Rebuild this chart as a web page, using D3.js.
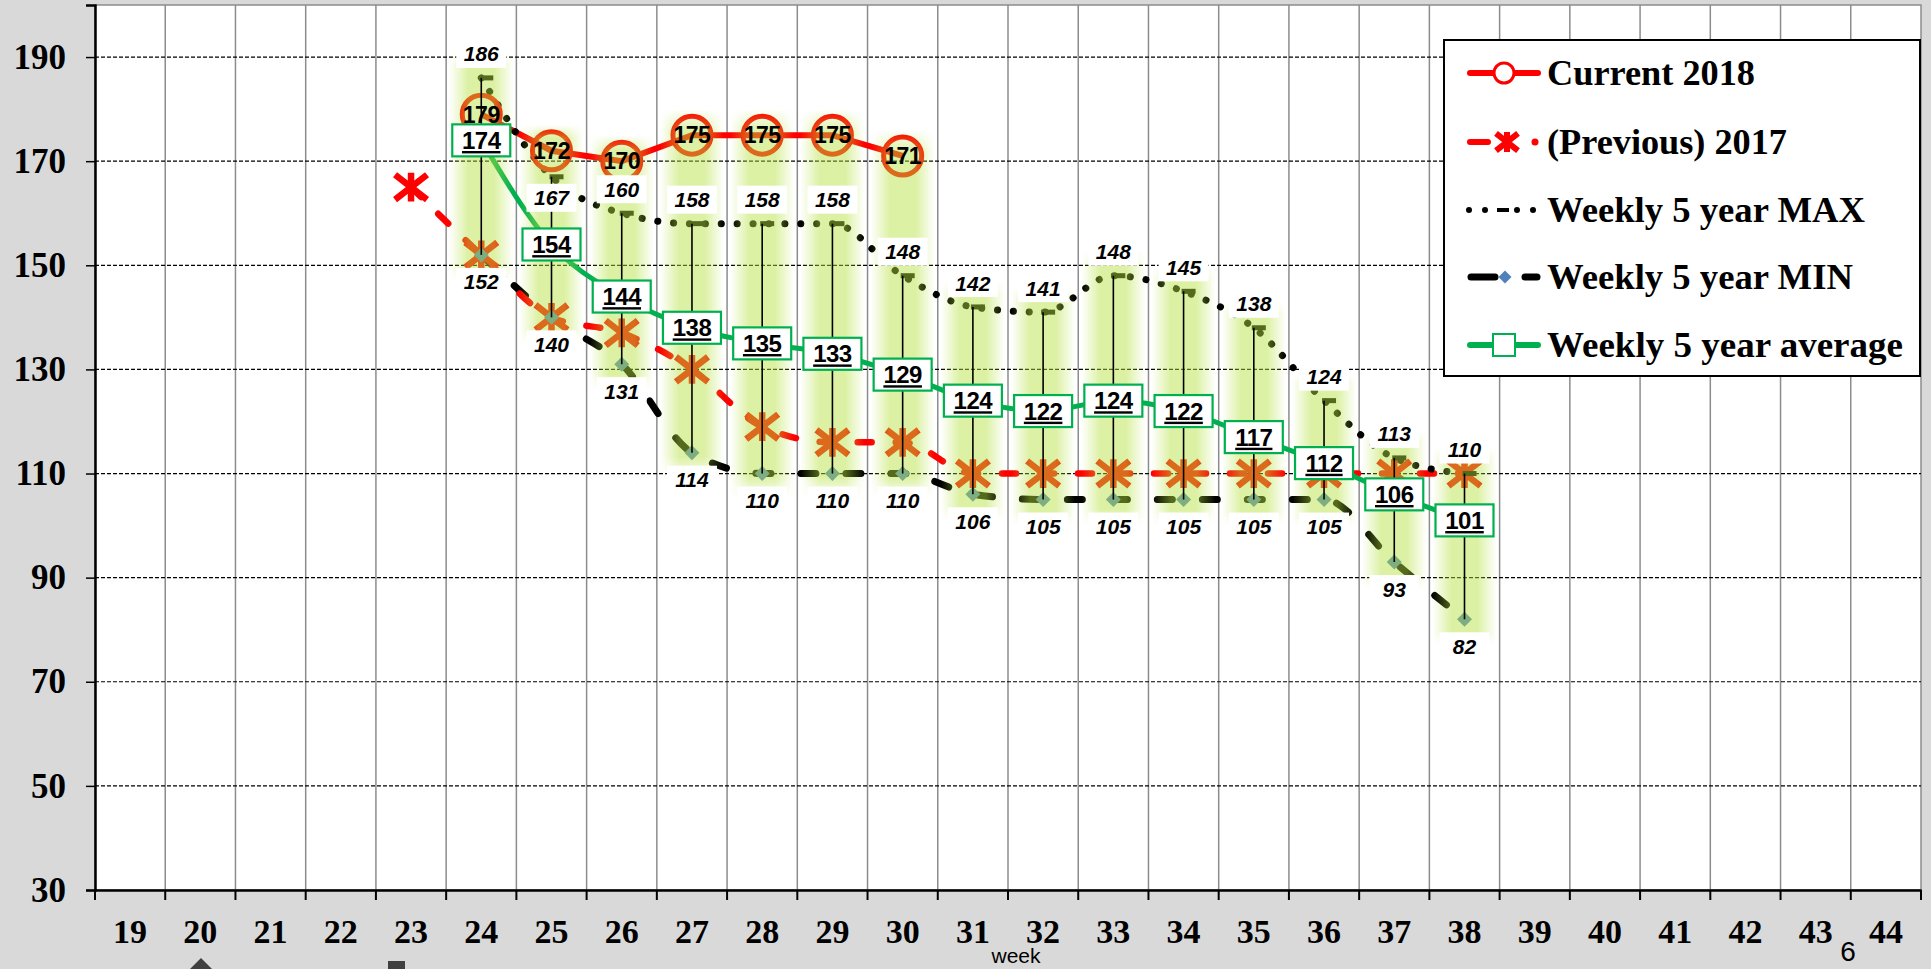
<!DOCTYPE html>
<html>
<head>
<meta charset="utf-8">
<script src="https://cdn.jsdelivr.net/npm/d3@7"></script>
<style>
  body { margin: 0; background: #d9d9d9; }
  svg { display: block; }
</style>
</head>
<body>
<svg id="chart" width="1931" height="969"></svg>
<script>
// chart values
var weeks = [19, 20, 21, 22, 23, 24, 25, 26, 27, 28, 29, 30, 31, 32, 33, 34, 35, 36, 37, 38, 39, 40, 41, 42, 43, 44];
var yTicks = [30, 50, 70, 90, 110, 130, 150, 170, 190];

var currentWeeks = [24, 25, 26, 27, 28, 29, 30];
var currentValues = [179, 172, 170, 175, 175, 175, 171];

var prevWeeks = [23, 24, 25, 26, 27, 28, 29, 30, 31, 32, 33, 34, 35, 36, 37, 38];
var prevValues = [165, 152, 140, 137, 130, 119, 116, 116, 110, 110, 110, 110, 110, 110, 110, 110];

var rangeWeeks = [24, 25, 26, 27, 28, 29, 30, 31, 32, 33, 34, 35, 36, 37, 38];
var maxValues = [186, 167, 160, 158, 158, 158, 148, 142, 141, 148, 145, 138, 124, 113, 110];
var minValues = [152, 140, 131, 114, 110, 110, 110, 106, 105, 105, 105, 105, 105, 93, 82];
var avgValues = [174, 154, 144, 138, 135, 133, 129, 124, 122, 124, 122, 117, 112, 106, 101];

var legendNames = ['Current 2018', '(Previous) 2017', 'Weekly 5 year MAX', 'Weekly 5 year MIN', 'Weekly 5 year average'];

var width = 1931, height = 969;
var plot = { left: 95, right: 1921, top: 5, bottom: 890 };
var serif = '"Liberation Serif", "Times New Roman", serif';
var sans = '"Liberation Sans", Arial, sans-serif';

var svg = d3.select('#chart');

var xScale = d3.scaleBand().domain(weeks).range([plot.left, plot.right]);
var yScale = d3.scaleLinear().domain([30, 200]).range([plot.bottom, plot.top]);
function cx(w) { return xScale(w) + xScale.bandwidth() / 2; }

function zip(ws, vs) {
  return ws.map(function(w, i) { return { week: w, value: vs[i] }; });
}
var currentData = zip(currentWeeks, currentValues);
var prevData = zip(prevWeeks, prevValues);
var maxData = zip(rangeWeeks, maxValues);
var minData = zip(rangeWeeks, minValues);
var avgData = zip(rangeWeeks, avgValues);

// soft glow for the high-low columns: horizontal fade + vertical fade
var defs = svg.append('defs');
var hGrad = defs.append('linearGradient').attr('id', 'glowH').attr('x1', 0).attr('x2', 1).attr('y1', 0).attr('y2', 0);
[[0, 0], [0.3, 1], [0.7, 1], [1, 0]].forEach(function(s) {
  hGrad.append('stop').attr('offset', s[0]).attr('stop-color', 'rgb(180,225,60)').attr('stop-opacity', s[1] * 0.47);
});
var vGrad = defs.append('linearGradient').attr('id', 'glowV').attr('x1', 0).attr('x2', 0).attr('y1', 0).attr('y2', 1);
[[0, 0], [0.06, 1], [0.94, 1], [1, 0]].forEach(function(s) {
  vGrad.append('stop').attr('offset', s[0]).attr('stop-color', '#fff').attr('stop-opacity', s[1]);
});
defs.append('mask').attr('id', 'glowMask').attr('maskContentUnits', 'objectBoundingBox')
  .append('rect').attr('width', 1).attr('height', 1).attr('fill', 'url(#glowV)');

svg.append('rect').attr('width', width).attr('height', height).attr('fill', '#d9d9d9');
svg.append('rect')
  .attr('x', plot.left).attr('y', plot.top)
  .attr('width', plot.right - plot.left).attr('height', plot.bottom - plot.top)
  .attr('fill', '#fff').attr('stroke', '#8c8c8c').attr('stroke-width', 1.5);

// vertical grid at band edges
var gridGroup = svg.append('g');
gridGroup.selectAll('.vgrid').data(weeks.slice(1)).enter().append('line')
  .attr('class', 'vgrid')
  .attr('x1', function(d) { return xScale(d); })
  .attr('x2', function(d) { return xScale(d); })
  .attr('y1', plot.top).attr('y2', plot.bottom)
  .attr('stroke', '#8c8c8c').attr('stroke-width', 1.5);
gridGroup.selectAll('.hgrid').data(yTicks.slice(1)).enter().append('line')
  .attr('class', 'hgrid')
  .attr('x1', plot.left).attr('x2', plot.right)
  .attr('y1', function(d) { return yScale(d); })
  .attr('y2', function(d) { return yScale(d); })
  .attr('stroke', '#000').attr('stroke-width', 1.2).attr('stroke-dasharray', '4,2');

// axes
var yAxis = d3.axisLeft(yScale).tickValues(yTicks).tickSize(9).tickPadding(20);
var yAxisGroup = svg.append('g').attr('transform', 'translate(' + plot.left + ',0)').call(yAxis);
yAxisGroup.select('.domain').attr('stroke-width', 2.5);
yAxisGroup.selectAll('line').attr('stroke-width', 1.5);
yAxisGroup.selectAll('text')
  .style('font-family', serif).style('font-weight', 'bold').style('font-size', '35px').attr('fill', '#000');

var xAxis = d3.axisBottom(xScale).tickSize(0).tickPadding(29);
var xAxisGroup = svg.append('g').attr('transform', 'translate(0,' + plot.bottom + ')').call(xAxis);
xAxisGroup.select('.domain').attr('stroke-width', 2.5);
xAxisGroup.selectAll('text')
  .style('font-family', serif).style('font-weight', 'bold').style('font-size', '34px').attr('fill', '#000');
xAxisGroup.selectAll('.edge').data(weeks.concat(['end'])).enter().append('line')
  .attr('class', 'edge')
  .attr('x1', function(d) { return d === 'end' ? plot.right : xScale(d); })
  .attr('x2', function(d) { return d === 'end' ? plot.right : xScale(d); })
  .attr('y1', 0).attr('y2', 10)
  .attr('stroke', '#000').attr('stroke-width', 2);

svg.append('text').attr('x', 1016).attr('y', 963).attr('text-anchor', 'middle')
  .style('font-family', sans).style('font-size', '21px').text('week');
svg.append('text').attr('x', 1848).attr('y', 961).attr('text-anchor', 'middle')
  .style('font-family', sans).style('font-size', '28px').text('6');
// clipped markers of a hidden legend under the axis
svg.append('path').attr('transform', 'translate(201,978)').attr('fill', '#404040')
  .attr('d', 'M0,-20L20,0L0,20L-20,0Z');
svg.append('rect').attr('x', 388).attr('y', 961).attr('width', 17).attr('height', 17).attr('fill', '#404040');

// series lines
var seriesGroup = svg.append('g');
function lineGen(curve) {
  return d3.line()
    .x(function(d) { return cx(d.week); })
    .y(function(d) { return yScale(d.value); })
    .curve(curve);
}
seriesGroup.append('path').datum(minData)
  .attr('d', lineGen(d3.curveMonotoneX))
  .attr('fill', 'none').attr('stroke', '#000').attr('stroke-width', 7)
  .attr('stroke-linecap', 'round').attr('stroke-dasharray', '15,30');
seriesGroup.append('path').datum(prevData)
  .attr('d', lineGen(d3.curveMonotoneX))
  .attr('fill', 'none').attr('stroke', '#ff0000').attr('stroke-width', 6.5)
  .attr('stroke-linecap', 'round').attr('stroke-dasharray', '14,24');
seriesGroup.append('path').datum(avgData)
  .attr('d', lineGen(d3.curveMonotoneX))
  .attr('fill', 'none').attr('stroke', '#00b050').attr('stroke-width', 5);
seriesGroup.append('path').datum(currentData)
  .attr('d', lineGen(d3.curveLinear))
  .attr('fill', 'none').attr('stroke', '#ff0000').attr('stroke-width', 6);
seriesGroup.append('path').datum(maxData)
  .attr('d', lineGen(d3.curveMonotoneX))
  .attr('fill', 'none').attr('stroke', '#000').attr('stroke-width', 7)
  .attr('stroke-linecap', 'round').attr('stroke-dasharray', '0.1,15.8');

// markers
function starPath(r) {
  return 'M' + (-r) + ',' + (-r * 0.78) + 'L' + r + ',' + (r * 0.78) +
    'M' + (-r) + ',' + (r * 0.78) + 'L' + r + ',' + (-r * 0.78) +
    'M0,' + (-r * 0.9) + 'L0,' + (r * 0.9);
}
function diamondPath(h) {
  return 'M0,' + (-h) + 'L' + h + ',0L0,' + h + 'L' + (-h) + ',0Z';
}
var markerGroup = svg.append('g');
markerGroup.selectAll('.prev-mark').data(prevData).enter().append('path')
  .attr('class', 'prev-mark')
  .attr('transform', function(d) { return 'translate(' + cx(d.week) + ',' + yScale(d.value) + ')'; })
  .attr('d', starPath(16))
  .attr('fill', 'none').attr('stroke', '#ff0000').attr('stroke-width', 6.5);
markerGroup.selectAll('.min-mark').data(minData).enter().append('path')
  .attr('class', 'min-mark')
  .attr('transform', function(d) { return 'translate(' + cx(d.week) + ',' + yScale(d.value) + ')'; })
  .attr('d', diamondPath(7.5))
  .attr('fill', '#4f81bd');
markerGroup.selectAll('.max-mark').data(maxData).enter().append('rect')
  .attr('class', 'max-mark')
  .attr('x', function(d) { return cx(d.week) - 2; })
  .attr('y', function(d) { return yScale(d.value) - 2.5; })
  .attr('width', 14).attr('height', 5).attr('fill', '#000');
markerGroup.selectAll('.cur-mark').data(currentData).enter().append('circle')
  .attr('class', 'cur-mark')
  .attr('cx', function(d) { return cx(d.week); })
  .attr('cy', function(d) { return yScale(d.value); })
  .attr('r', 19)
  .attr('fill', 'none').attr('stroke', '#ff0000').attr('stroke-width', 5);

// high-low glow columns and lines
var hiLo = rangeWeeks.map(function(w, i) {
  var ci = currentWeeks.indexOf(w);
  var top = ci >= 0 ? Math.max(maxValues[i], currentValues[ci]) : maxValues[i];
  return { week: w, hi: maxValues[i], lo: minValues[i], top: top };
});
svg.append('g').selectAll('rect').data(hiLo).enter().append('rect')
  .attr('x', function(d) { return cx(d.week) - 32; })
  .attr('y', function(d) { return yScale(d.top) - 26; })
  .attr('width', 64)
  .attr('height', function(d) { return yScale(d.lo) - yScale(d.top) + 52; })
  .attr('fill', 'url(#glowH)')
  .attr('mask', 'url(#glowMask)');
svg.append('g').selectAll('line').data(hiLo).enter().append('line')
  .attr('x1', function(d) { return cx(d.week); })
  .attr('x2', function(d) { return cx(d.week); })
  .attr('y1', function(d) { return yScale(d.hi); })
  .attr('y2', function(d) { return yScale(d.lo); })
  .attr('stroke', '#000').attr('stroke-width', 1.6);

// data labels
function boxedLabels(cls, data, dyFn) {
  var g = svg.append('g').selectAll('.' + cls).data(data).enter().append('g')
    .attr('class', cls)
    .attr('transform', function(d) { return 'translate(' + cx(d.week) + ',' + (yScale(d.value) + dyFn(d)) + ')'; });
  g.append('rect').attr('x', -25).attr('y', -14).attr('width', 50).attr('height', 28).attr('fill', '#fff');
  g.append('text').attr('text-anchor', 'middle').attr('dy', '0.36em')
    .style('font-family', sans).style('font-weight', 'bold').style('font-style', 'italic')
    .style('font-size', '21px')
    .text(function(d) { return d.value; });
}
// a max label sits under its point when the current circle is just above it
boxedLabels('max-label', maxData, function(d) {
  var ci = currentWeeks.indexOf(d.week);
  var gap = ci >= 0 ? currentValues[ci] - d.value : -1;
  return (gap >= 0 && gap <= 8) ? 21 : -24;
});
boxedLabels('min-label', minData, function() { return 27; });

svg.append('g').selectAll('text').data(currentData).enter().append('text')
  .attr('x', function(d) { return cx(d.week); })
  .attr('y', function(d) { return yScale(d.value); })
  .attr('text-anchor', 'middle').attr('dy', '0.36em')
  .style('font-family', sans).style('font-weight', 'bold').style('font-size', '23px')
  .style('letter-spacing', '-0.5px')
  .text(function(d) { return d.value; });

var avgLabels = svg.append('g').selectAll('g').data(avgData).enter().append('g')
  .attr('transform', function(d) { return 'translate(' + cx(d.week) + ',' + yScale(d.value) + ')'; });
avgLabels.append('rect').attr('x', -29).attr('y', -16).attr('width', 58).attr('height', 32)
  .attr('fill', '#fff').attr('stroke', '#00b050').attr('stroke-width', 2.2);
avgLabels.append('text').attr('text-anchor', 'middle').attr('dy', '0.36em')
  .style('font-family', sans).style('font-weight', 'bold').style('font-size', '24px')
  .style('letter-spacing', '-0.5px').style('text-decoration', 'underline')
  .text(function(d) { return d.value; });

// legend
var legend = svg.append('g');
legend.append('rect').attr('x', 1444).attr('y', 40).attr('width', 476).attr('height', 336)
  .attr('fill', '#fff').attr('stroke', '#000').attr('stroke-width', 2);
var rowY = [73, 142, 210, 277, 345];
var textLengths = [208, 240, 318, 306, 356];
legend.selectAll('.leg-text').data(legendNames).enter().append('text')
  .attr('class', 'leg-text')
  .attr('x', 1547)
  .attr('y', function(d, i) { return rowY[i]; })
  .attr('dy', '0.34em')
  .attr('textLength', function(d, i) { return textLengths[i]; })
  .attr('lengthAdjust', 'spacingAndGlyphs')
  .style('font-family', serif).style('font-weight', 'bold').style('font-size', '35px')
  .text(function(d) { return d; });

legend.append('line').attr('x1', 1470).attr('x2', 1538).attr('y1', rowY[0]).attr('y2', rowY[0])
  .attr('stroke', '#ff0000').attr('stroke-width', 6).attr('stroke-linecap', 'round');
legend.append('circle').attr('cx', 1504).attr('cy', rowY[0]).attr('r', 10)
  .attr('fill', '#fff').attr('stroke', '#ff0000').attr('stroke-width', 3);

legend.append('line').attr('x1', 1470).attr('x2', 1488).attr('y1', rowY[1]).attr('y2', rowY[1])
  .attr('stroke', '#ff0000').attr('stroke-width', 6).attr('stroke-linecap', 'round');
legend.append('path').attr('transform', 'translate(1507,' + rowY[1] + ')').attr('d', starPath(11))
  .attr('fill', 'none').attr('stroke', '#ff0000').attr('stroke-width', 6);
legend.append('circle').attr('cx', 1535).attr('cy', rowY[1]).attr('r', 3.5).attr('fill', '#ff0000');

legend.selectAll('.leg-dot').data([1469, 1485, 1517, 1533]).enter().append('circle')
  .attr('class', 'leg-dot')
  .attr('cx', function(d) { return d; }).attr('cy', rowY[2]).attr('r', 3).attr('fill', '#000');
legend.append('rect').attr('x', 1497).attr('y', rowY[2] - 2).attr('width', 12).attr('height', 4).attr('fill', '#000');

legend.append('line').attr('x1', 1471).attr('x2', 1495).attr('y1', rowY[3]).attr('y2', rowY[3])
  .attr('stroke', '#000').attr('stroke-width', 7).attr('stroke-linecap', 'round');
legend.append('path').attr('transform', 'translate(1505,' + rowY[3] + ')')
  .attr('d', diamondPath(6.5)).attr('fill', '#4f81bd');
legend.append('line').attr('x1', 1525).attr('x2', 1537).attr('y1', rowY[3]).attr('y2', rowY[3])
  .attr('stroke', '#000').attr('stroke-width', 7).attr('stroke-linecap', 'round');

legend.append('line').attr('x1', 1470).attr('x2', 1538).attr('y1', rowY[4]).attr('y2', rowY[4])
  .attr('stroke', '#00b050').attr('stroke-width', 6).attr('stroke-linecap', 'round');
legend.append('rect').attr('x', 1493).attr('y', rowY[4] - 11).attr('width', 22).attr('height', 22)
  .attr('fill', '#fff').attr('stroke', '#00b050').attr('stroke-width', 2);
</script>
</body>
</html>
